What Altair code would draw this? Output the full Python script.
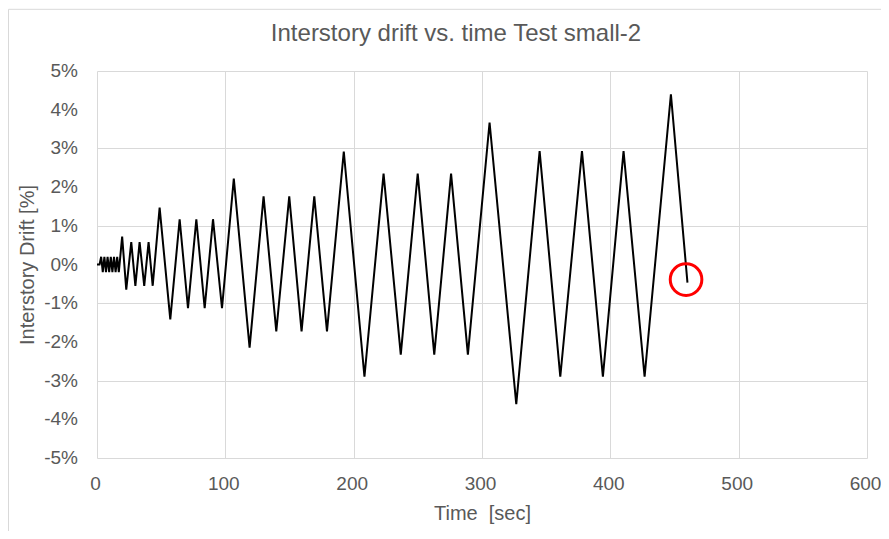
import altair as alt
import pandas as pd

# time [sec]
time_s = [0, 2, 3.25, 4.5, 5.75, 7, 8.25, 9.5, 10.75, 12, 13.25, 14.5, 15.75, 17,
          19.6, 22.8, 26.7, 29.9, 33.2, 36.8, 40.2, 43.4,
          48.8, 57.1, 64.4, 70.9, 77.4, 83.9, 90.4, 97.4,
          106.6, 118.9, 129.8, 139.7, 149.8, 159.4, 169.3, 179.2,
          192.3, 208.4, 223.3, 236.7, 249.9, 262.8, 275.9, 289.0,
          305.9, 326.7, 344.9, 361.0, 377.9, 394.2, 410.3, 426.7,
          447.2, 460.1]
# interstory drift [%]
drift_pct = [0, 0, 0.2, -0.2, 0.2, -0.2, 0.2, -0.2, 0.2, -0.2, 0.2, -0.2, 0.2, -0.2,
             0.72, -0.65, 0.58, -0.55, 0.58, -0.55, 0.58, -0.55,
             1.47, -1.42, 1.17, -1.13, 1.17, -1.13, 1.17, -1.13,
             2.22, -2.15, 1.76, -1.73, 1.76, -1.73, 1.76, -1.73,
             2.92, -2.90, 2.35, -2.33, 2.35, -2.33, 2.35, -2.33,
             3.67, -3.61, 2.93, -2.90, 2.93, -2.90, 2.93, -2.90,
             4.40, -0.47]

# highlighted end point (red circle)
mark_time = [459]
mark_drift = [-0.39]

x_ticks = [0, 100, 200, 300, 400, 500, 600]
y_ticks = [-5, -4, -3, -2, -1, 0, 1, 2, 3, 4, 5]
y_tick_labels = [f"{v}%" for v in y_ticks]

df = pd.DataFrame({"t": time_s, "d": drift_pct})
df_mark = pd.DataFrame({"t": mark_time, "d": mark_drift})
df_yt = pd.DataFrame({"d": y_ticks, "lab": y_tick_labels})

grey = "#595959"
grid = "#d9d9d9"
font = "Liberation Sans"

x_enc = alt.X("t:Q", scale=alt.Scale(domain=[0, 600], nice=False),
              axis=alt.Axis(values=x_ticks, title="Time\u00a0 [sec]", grid=True,
                            gridColor=grid, domain=False, ticks=False, tickSize=0,
                            labelFontSize=19, labelColor=grey, labelFont=font,
                            labelBaseline="middle", labelPadding=25, labelOffset=-2,
                            labelFlush=False, labelOverlap=False,
                            titleFontSize=20, titleColor=grey, titleFont=font,
                            titleFontWeight="normal", titleY=61,
                            titleBaseline="alphabetic"))
y_enc = alt.Y("d:Q", scale=alt.Scale(domain=[-5, 5], nice=False),
              axis=alt.Axis(values=y_ticks, labels=False,
                            title="Interstory Drift [%]", grid=True, gridColor=grid,
                            domain=False, ticks=False, tickSize=0,
                            titleFontSize=20, titleColor=grey, titleFont=font,
                            titleFontWeight="normal", titleX=-64, titleY=193.5,
                            titleBaseline="alphabetic"))

line = alt.Chart(df).mark_line(color="black", strokeWidth=2).encode(x=x_enc, y=y_enc)

# y tick labels (every 1 %), placed through the y scale
ylabels = alt.Chart(df_yt).mark_text(align="right", baseline="middle", fontSize=19,
                                     font=font, color=grey).encode(
    x=alt.value(-19), y=alt.Y("d:Q"), text="lab:N")

circle = alt.Chart(df_mark).mark_point(shape="circle", filled=False, color="#ff0000",
                                        strokeWidth=3, size=1000, opacity=1).encode(
    x=alt.X("t:Q"), y=alt.Y("d:Q"))

# faint outer frame of the chart (top and left edges)
frame_top = alt.Chart(df_mark).mark_rule(color="#d9d9d9", strokeWidth=1).encode(
    x=alt.value(-88.5), x2=alt.value(800), y=alt.value(-61.7))
frame_left = alt.Chart(df_mark).mark_rule(color="#d9d9d9", strokeWidth=1).encode(
    x=alt.value(-88.5), y=alt.value(-61.7), y2=alt.value(460))

chart = alt.layer(line, ylabels, circle, frame_top, frame_left).properties(
    width=770, height=387,
    title=alt.TitleParams("Interstory drift vs. time Test small-2", fontSize=24,
                          font=font, color=grey, fontWeight="normal",
                          anchor="middle", frame="group", dx=-26,
                          baseline="alphabetic", offset=-56),
    autosize=alt.AutoSizeParams(type="none"),
    padding={"left": 89, "top": 63, "right": 14, "bottom": 73},
).configure_view(stroke=None).configure_axis(labelOverlap=False)

chart.save("out.html", embed_options={"renderer": "svg", "actions": False})
